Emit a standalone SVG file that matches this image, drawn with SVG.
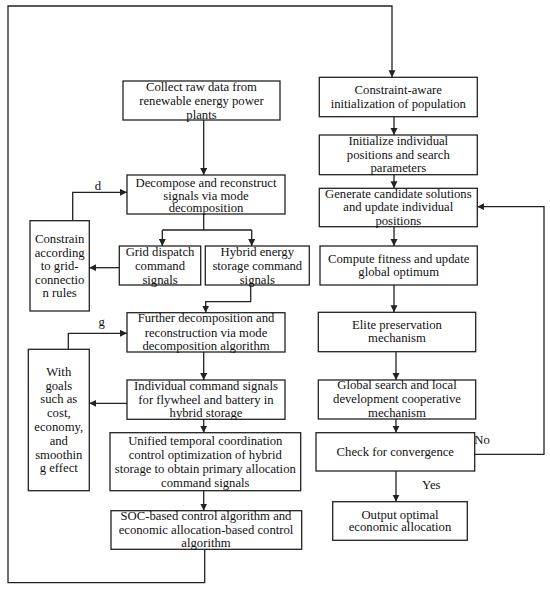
<svg xmlns="http://www.w3.org/2000/svg" width="550" height="591" viewBox="0 0 550 591">
<defs>
<marker id="ah" markerUnits="userSpaceOnUse" markerWidth="8" markerHeight="8" refX="7" refY="3.5" orient="auto">
<path d="M0,0 L7,3.5 L0,7 z" fill="#222"/>
</marker>
<style>
.b{fill:#fff;stroke:#222;stroke-width:1.3}
.c{fill:none;stroke:#222;stroke-width:1.3}
.a{marker-end:url(#ah)}
text{font-family:"Liberation Serif","Times New Roman",serif;font-size:12.7px;fill:#111;text-anchor:middle}
</style>
</defs>
<rect width="550" height="591" fill="#fff"/>
<g id="connectors">
<path class="c a" d="M204.7,549.3 V582.7 H8 V6 H392 V77.3"/>
<path class="c a" d="M203.7,120 V175"/>
<path class="c" d="M203.7,214 V230 M162.3,230 H251.7"/>
<path class="c a" d="M162.3,230 V246"/>
<path class="c a" d="M251.7,230 V246"/>
<path class="c a" d="M119.3,267.7 H89.3"/>
<path class="c a" d="M72.7,220.7 V192.3 H127"/>
<path class="c a" d="M250.7,285 V301.7 H205.7 V312.7"/>
<path class="c a" d="M68.3,349.3 V333.3 H127"/>
<path class="c a" d="M203.7,352 V380"/>
<path class="c a" d="M127,403.3 H89.3"/>
<path class="c a" d="M203.7,419.3 V432.7"/>
<path class="c a" d="M203.7,490.7 V510.7"/>
<path class="c a" d="M394,116.7 V135"/>
<path class="c a" d="M394,174.7 V188.3"/>
<path class="c a" d="M394,226.7 V246"/>
<path class="c a" d="M394,285 V312.3"/>
<path class="c a" d="M396,351.7 V380"/>
<path class="c a" d="M396,419 V432.7"/>
<path class="c a" d="M396,471 V501.7"/>
<path class="c a" d="M474.7,454.3 H544 V206.7 H477.3"/>
<text x="98" y="189.5">d</text>
<text x="101.7" y="326">g</text>
<text x="482" y="444">No</text>
<text x="431.3" y="489">Yes</text>
</g>
<g id="collect"><rect class="b" x="123" y="81" width="157" height="39"/>
<text x="201.5" y="90.5">Collect raw data from</text><text x="201.5" y="104.5">renewable energy power</text><text x="201.5" y="118.5">plants</text></g>
<g id="decompose"><rect class="b" x="127" y="175" width="158" height="39"/>
<text x="206" y="187">Decompose and reconstruct</text><text x="206" y="199.5">signals via mode</text><text x="206" y="212">decomposition</text></g>
<g id="grid"><rect class="b" x="119.3" y="246" width="81.4" height="39"/>
<text x="160" y="256">Grid dispatch</text><text x="160" y="270">command</text><text x="160" y="283.5">signals</text></g>
<g id="hybrid"><rect class="b" x="205.3" y="246" width="104" height="39"/>
<text x="257.3" y="256">Hybrid energy</text><text x="257.3" y="270">storage command</text><text x="257.3" y="283.5">signals</text></g>
<g id="constrain"><rect class="b" x="30" y="220.7" width="59.3" height="90.3"/>
<text x="59.7" y="243">Constrain</text><text x="59.7" y="256.5">according</text><text x="59.7" y="270">to grid-</text><text x="59.7" y="283.5">connectio</text><text x="59.7" y="297">n rules</text></g>
<g id="further"><rect class="b" x="127" y="312.7" width="158" height="39.3"/>
<text x="206" y="322">Further decomposition and</text><text x="206" y="337">reconstruction via mode</text><text x="206" y="350">decomposition algorithm</text></g>
<g id="goals"><rect class="b" x="28.3" y="349.3" width="61" height="141.4"/>
<text x="58.8" y="375.5">With</text><text x="58.8" y="389.5">goals</text><text x="58.8" y="403">such as</text><text x="58.8" y="417">cost,</text><text x="58.8" y="430.5">economy,</text><text x="58.8" y="444.5">and</text><text x="58.8" y="458.5">smoothin</text><text x="58.8" y="472">g effect</text></g>
<g id="individual"><rect class="b" x="127" y="380" width="158" height="39.3"/>
<text x="206" y="389.5">Individual command signals</text><text x="206" y="403.5">for flywheel and battery in</text><text x="206" y="417">hybrid storage</text></g>
<g id="unified"><rect class="b" x="110" y="432.7" width="190.7" height="58"/>
<text x="205.3" y="444.5">Unified temporal coordination</text><text x="205.3" y="459">control optimization of hybrid</text><text x="205.3" y="472.5">storage to obtain primary allocation</text><text x="205.3" y="486.5">command signals</text></g>
<g id="soc"><rect class="b" x="111" y="510.7" width="190.7" height="38.6"/>
<text x="206" y="519.5">SOC-based control algorithm and</text><text x="206" y="533.5">economic allocation-based control</text><text x="206" y="547">algorithm</text></g>
<g id="init-pop"><rect class="b" x="319.3" y="77.3" width="158" height="39.4"/>
<text x="398.3" y="94">Constraint-aware</text><text x="398.3" y="108">initialization of population</text></g>
<g id="init-pos"><rect class="b" x="319.3" y="135" width="158" height="39.7"/>
<text x="398.3" y="144.5">Initialize individual</text><text x="398.3" y="158.5">positions and search</text><text x="398.3" y="172">parameters</text></g>
<g id="generate"><rect class="b" x="319.3" y="188.3" width="158" height="38.4"/>
<text x="398.3" y="198">Generate candidate solutions</text><text x="398.3" y="211">and update individual</text><text x="398.3" y="225">positions</text></g>
<g id="compute"><rect class="b" x="320" y="246" width="157.3" height="39"/>
<text x="398.7" y="263">Compute fitness and update</text><text x="398.7" y="276">global optimum</text></g>
<g id="elite"><rect class="b" x="318.3" y="312.3" width="157.4" height="39.4"/>
<text x="397" y="329">Elite preservation</text><text x="397" y="342">mechanism</text></g>
<g id="global"><rect class="b" x="318.3" y="380" width="157.4" height="39"/>
<text x="397" y="389">Global search and local</text><text x="397" y="403">development cooperative</text><text x="397" y="417">mechanism</text></g>
<g id="check"><rect class="b" x="316" y="432.7" width="158.7" height="38.3"/>
<text x="395.3" y="455.5">Check for convergence</text></g>
<g id="output"><rect class="b" x="332.7" y="501.7" width="134.6" height="38.6"/>
<text x="400" y="518.5">Output optimal</text><text x="400" y="531">economic allocation</text></g>
</svg>
